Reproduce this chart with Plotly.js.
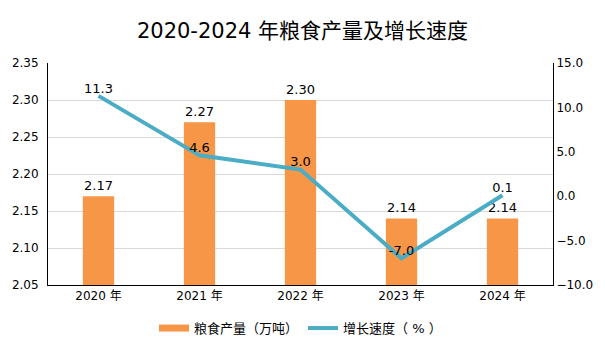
<!DOCTYPE html>
<html>
<head>
<meta charset="utf-8">
<script src="https://cdn.plot.ly/plotly-3.0.1.min.js"></script>
<style>html,body{margin:0;padding:0;background:#fff;}#chart{width:605px;height:340px;}</style>
</head>
<body>
<div id="chart"></div>
<script>
const years = ['2020 年', '2021 年', '2022 年', '2023 年', '2024 年'];
const output = [2.17, 2.27, 2.30, 2.14, 2.14];
const growth = [11.3, 4.6, 3.0, -7.0, 0.1];
const leftTicks = [2.05, 2.10, 2.15, 2.20, 2.25, 2.30, 2.35];
const rightTicks = [-10, -5, 0, 5, 10, 15];

const font = 'DejaVu Sans, Noto Sans CJK SC, sans-serif';
const orange = '#F79646';
const teal = '#4BACC6';

const traces = [
  {
    type: 'bar', x: years, y: output, yaxis: 'y',
    marker: {color: orange}, width: 0.31,
    text: output.map(v => v.toFixed(2)), textposition: 'outside',
    textfont: {size: 13, color: '#000', family: font},
    cliponaxis: false, showlegend: false, hoverinfo: 'skip'
  },
  {
    type: 'scatter', x: [null], y: [null], mode: 'lines', yaxis: 'y',
    name: '粮食产量（万吨）', line: {color: orange, width: 7}
  },
  {
    type: 'scatter', x: years, y: growth, yaxis: 'y2', mode: 'lines+text',
    name: '增长速度（ % ）', line: {color: teal, width: 4},
    text: growth.map(v => v.toFixed(1)), textposition: 'top center',
    textfont: {size: 13, color: '#000', family: font}, cliponaxis: false
  }
];

const layout = {
  width: 605, height: 340,
  margin: {l: 48, r: 52, t: 63, b: 55},
  paper_bgcolor: '#fff', plot_bgcolor: '#fff',
  font: {family: font, size: 12, color: '#000'},
  title: {text: '2020-2024 年粮食产量及增长速度', x: 0.5, xanchor: 'center', y: 0.91, yanchor: 'middle',
          font: {size: 21, color: '#000', family: font}},
  xaxis: {showline: true, linecolor: '#000', linewidth: 1, ticks: '', showgrid: false,
          tickfont: {size: 12}, zeroline: false},
  yaxis: {range: [2.05, 2.35], tickvals: leftTicks, tickformat: '.2f', showline: true, linecolor: '#000',
          linewidth: 1, gridcolor: '#d9d9d9', gridwidth: 1, zeroline: false, ticks: '', tickfont: {size: 12},
          ticklabelstandoff: 6},
  yaxis2: {range: [-10, 15], tickvals: rightTicks, tickformat: '.1f', overlaying: 'y', side: 'right',
           showline: true, linecolor: '#000', linewidth: 1, showgrid: false, zeroline: false, ticks: '',
           tickfont: {size: 12}},
  legend: {orientation: 'h', x: 0.5, xanchor: 'center', xref: 'paper', yref: 'container', y: 0.035, yanchor: 'middle',
           font: {size: 13}, itemwidth: 30},
  showlegend: true
};

Plotly.newPlot('chart', traces, layout, {displayModeBar: false, staticPlot: true});
</script>
</body>
</html>
